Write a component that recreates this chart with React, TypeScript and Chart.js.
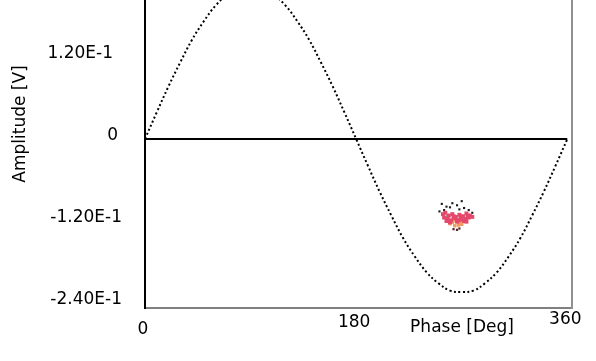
import React, { useEffect, useRef } from "react";
import { Chart, registerables } from "chart.js";

Chart.register(...registerables);

const PHASES = [0, 10, 20, 30, 40, 50, 60, 70, 80, 90, 100, 110, 120, 130, 140, 150, 160, 170, 180,
  190, 200, 210, 220, 230, 240, 250, 260, 270, 280, 290, 300, 310, 320, 330, 340, 350, 360];
const AMPLITUDE = [0, 0.039, 0.077, 0.112, 0.145, 0.172, 0.195, 0.211, 0.222, 0.225, 0.222, 0.211, 0.195,
  0.172, 0.145, 0.112, 0.077, 0.039, 0, -0.039, -0.077, -0.112, -0.145, -0.172, -0.195, -0.211, -0.222,
  -0.224, -0.222, -0.211, -0.195, -0.172, -0.145, -0.112, -0.077, -0.039, 0];

// Cluster of measured points near 265 deg
const CLUSTER_BLACK_X = [253, 257, 262, 266, 270, 272, 276, 255, 268, 260, 279, 251];
const CLUSTER_BLACK_Y = [-0.095, -0.099, -0.094, -0.097, -0.091, -0.101, -0.104, -0.104, -0.103, -0.1, -0.108, -0.106];
const CLUSTER_RED_X = [254, 256, 259, 262, 265, 268, 271, 274, 277, 258, 261, 264, 270, 273, 276, 267,
  255, 263, 269, 275, 279, 260, 266, 272, 257, 274];
const CLUSTER_RED_Y = [-0.11, -0.108, -0.112, -0.11, -0.114, -0.111, -0.113, -0.109, -0.112, -0.117, -0.119,
  -0.116, -0.118, -0.117, -0.115, -0.119, -0.115, -0.113, -0.115, -0.113, -0.114, -0.122, -0.121, -0.12,
  -0.12, -0.121];
const CLUSTER_ORANGE_X = [262, 265, 268, 271, 264, 267, 270, 260, 266, 263, 269];
const CLUSTER_ORANGE_Y = [-0.122, -0.12, -0.123, -0.121, -0.127, -0.126, -0.125, -0.124, -0.118, -0.117, -0.119];
const CLUSTER_DARK_X = [263, 266, 268, 274, 258];
const CLUSTER_DARK_Y = [-0.132, -0.133, -0.131, -0.117, -0.113];

const Y_TICKS = [0.12, 0, -0.12, -0.24];
const Y_TICK_LABELS = ["1.20E-1", "0", "-1.20E-1", "-2.40E-1"];
const X_TICKS = [0, 180, 360];
const X_TICK_LABELS = ["0", "180", "360"];
const X_TITLE = "Phase [Deg]";
const Y_TITLE = "Amplitude [V]";

const FONT = '17px "DejaVu Sans"';

const labelPlugin = {
  id: "labels",
  afterDraw(chart: any) {
    const ctx = chart.ctx;
    const ys = chart.scales.y;
    const xs = chart.scales.x;
    ctx.save();
    ctx.fillStyle = "#000";
    ctx.font = FONT;
    ctx.textBaseline = "middle";
    ctx.textAlign = "right";
    const yRight = [113, 118, 122, 122];
    Y_TICKS.forEach((v, i) => {
      ctx.fillText(Y_TICK_LABELS[i], yRight[i], ys.getPixelForValue(v) - 3);
    });
    ctx.textAlign = "center";
    const xRow = [330, 323, 320];
    X_TICKS.forEach((v, i) => {
      ctx.fillText(X_TICK_LABELS[i], xs.getPixelForValue(v) - 2, xRow[i]);
    });
    ctx.fillText(X_TITLE, 462, 328);
    ctx.translate(21, 124);
    ctx.rotate(-Math.PI / 2);
    ctx.fillText(Y_TITLE, 0, 0);
    ctx.restore();
  },
};

function zip(xs: number[], ys: number[]) {
  return xs.map((x, i) => ({ x, y: ys[i] }));
}

export default function App() {
  const ref = useRef<HTMLCanvasElement>(null);
  useEffect(() => {
    if (!ref.current) return;
    const pointDs = (xs: number[], ys: number[], color: string, r: number) => ({
      type: "scatter" as const,
      data: zip(xs, ys),
      pointRadius: r,
      pointStyle: "rect",
      pointBackgroundColor: color,
      pointBorderWidth: 0,
      borderColor: color,
      showLine: false,
    });
    const chart = new Chart(ref.current, {
      type: "line",
      data: {
        datasets: [
          {
            data: [{ x: 0, y: 0 }, { x: 360, y: 0 }],
            borderColor: "#000",
            borderWidth: 2,
            pointRadius: 0,
          },
          {
            data: zip(PHASES, AMPLITUDE),
            borderColor: "#000",
            borderWidth: 2,
            borderDash: [2, 2.5],
            pointRadius: 0,
            tension: 0.4,
          },
          pointDs(CLUSTER_RED_X, CLUSTER_RED_Y, "#e4486a", 2.8) as any,
          pointDs(CLUSTER_ORANGE_X, CLUSTER_ORANGE_Y, "#f09a62", 2.4) as any,
          pointDs(CLUSTER_BLACK_X, CLUSTER_BLACK_Y, "#1a1a1a", 1.5) as any,
          pointDs(CLUSTER_DARK_X, CLUSTER_DARK_Y, "#5a2a2a", 1.6) as any,
        ],
      },
      options: {
        responsive: false,
        animation: false,
        layout: { padding: 0, autoPadding: false },
        plugins: { legend: { display: false }, tooltip: { enabled: false } },
        scales: {
          x: {
            type: "linear",
            min: 0,
            max: 364,
            ticks: { display: false },
            grid: { display: false },
            border: { display: true, color: "#808080", width: 2 },
            afterFit: (s: any) => { s.height = 53; },
          },
          y: {
            type: "linear",
            position: "left",
            min: -0.2474,
            max: 0.2035,
            ticks: { display: false },
            grid: { display: false },
            border: { display: true, color: "#000", width: 2 },
            afterFit: (s: any) => { s.width = 145; },
          },
          y2: {
            type: "linear",
            position: "right",
            display: true,
            min: -0.2474,
            max: 0.2035,
            ticks: { display: false },
            grid: { display: false },
            border: { display: true, color: "#909090", width: 2 },
            afterFit: (s: any) => { s.width = 24; },
          },
        },
      },
      plugins: [labelPlugin],
    });
    return () => chart.destroy();
  }, []);
  return (
    <div style={{ position: "fixed", left: 0, top: 0, width: 596, height: 361, background: "#fff" }}>
      <canvas ref={ref} width={596} height={361} />
    </div>
  );
}
